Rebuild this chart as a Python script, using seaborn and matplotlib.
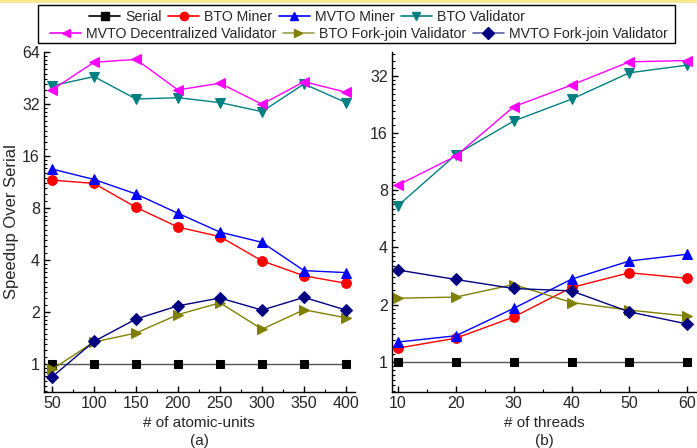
import numpy as np
import pandas as pd
import seaborn as sns
import matplotlib
matplotlib.use("Agg")
import matplotlib.pyplot as plt
from matplotlib.lines import Line2D
from matplotlib.patches import Rectangle
from matplotlib.ticker import FixedLocator, FixedFormatter, NullFormatter

# ---------------- data ----------------
series_names = ["Serial", "BTO Miner", "MVTO Miner", "BTO Validator",
                "MVTO Decentralized Validator", "BTO Fork-join Validator",
                "MVTO Fork-join Validator"]

atomic_units = [50, 100, 150, 200, 250, 300, 350, 400]
a_serial = [1, 1, 1, 1, 1, 1, 1, 1]
a_bto_miner = [11.6, 11.1, 8.07, 6.2, 5.46, 3.95, 3.24, 2.93]
a_mvto_miner = [13.45, 11.7, 9.64, 7.45, 5.8, 5.06, 3.47, 3.38]
a_bto_validator = [40.8, 46.1, 34.2, 34.8, 32.6, 28.9, 41.8, 32.6]
a_mvto_dec_validator = [38.6, 55.8, 58.0, 38.6, 42.2, 31.9, 43.1, 37.4]
a_bto_fj_validator = [0.93, 1.34, 1.51, 1.93, 2.26, 1.59, 2.06, 1.85]
a_mvto_fj_validator = [0.84, 1.35, 1.82, 2.17, 2.41, 2.05, 2.43, 2.05]

threads = [10, 20, 30, 40, 50, 60]
b_serial = [1, 1, 1, 1, 1, 1]
b_bto_miner = [1.18, 1.33, 1.72, 2.46, 2.94, 2.75]
b_mvto_miner = [1.27, 1.37, 1.91, 2.72, 3.39, 3.68]
b_bto_validator = [6.63, 12.3, 18.5, 24.1, 33.2, 36.4]
b_mvto_dec_validator = [8.51, 12.1, 22.0, 28.6, 37.9, 38.5]
b_bto_fj_validator = [2.16, 2.19, 2.55, 2.05, 1.87, 1.74]
b_mvto_fj_validator = [3.04, 2.71, 2.43, 2.36, 1.83, 1.58]

left_yticks = [1, 2, 4, 8, 16, 32, 64]
right_yticks = [1, 2, 4, 8, 16, 32]

# ---------------- style ----------------
colors = {"Serial": "#000000", "BTO Miner": "#ff0000", "MVTO Miner": "#0000ff",
          "BTO Validator": "#008080", "MVTO Decentralized Validator": "#ff00ff",
          "BTO Fork-join Validator": "#808000", "MVTO Fork-join Validator": "#000080"}
line_colors = dict(colors)
line_colors["Serial"] = "#555555"
legend_line_colors = dict(colors)
legend_line_colors["MVTO Fork-join Validator"] = "#6060a8"
legend_line_colors["BTO Fork-join Validator"] = "#a0a050"
markers = {"Serial": "s", "BTO Miner": "o", "MVTO Miner": "^", "BTO Validator": "v",
           "MVTO Decentralized Validator": "<", "BTO Fork-join Validator": ">",
           "MVTO Fork-join Validator": "D"}
msizes = {"Serial": 6, "BTO Miner": 7, "MVTO Miner": 7.5, "BTO Validator": 7.5,
          "MVTO Decentralized Validator": 7.5, "BTO Fork-join Validator": 7.5,
          "MVTO Fork-join Validator": 6}

sns.set_style("ticks")
plt.rcParams["font.family"] = ["Liberation Sans", "DejaVu Sans"]

fig = plt.figure(figsize=(6.97, 4.48), dpi=100)
W, H = 697, 448


def axrect(x0, x1, ytop, ybot):
    return [x0 / W, 1 - ybot / H, (x1 - x0) / W, (ybot - ytop) / H]


axA = fig.add_axes(axrect(44, 355, 52, 392))
axB = fig.add_axes(axrect(392, 697, 52, 392))

a_vals = [a_serial, a_bto_miner, a_mvto_miner, a_bto_validator,
          a_mvto_dec_validator, a_bto_fj_validator, a_mvto_fj_validator]
b_vals = [b_serial, b_bto_miner, b_mvto_miner, b_bto_validator,
          b_mvto_dec_validator, b_bto_fj_validator, b_mvto_fj_validator]


def draw(ax, xs, vals):
    for name, ys in zip(series_names, vals):
        df = pd.DataFrame({"x": xs, "y": ys})
        sns.lineplot(data=df, x="x", y="y", ax=ax, color=line_colors[name],
                     marker=markers[name], markersize=msizes[name],
                     markerfacecolor=colors[name], markeredgecolor=colors[name],
                     linewidth=1.0, legend=False)


draw(axA, atomic_units, a_vals)
draw(axB, threads, b_vals)

for ax, xt, yt, xlim, ylim, minor_x in [
        (axA, atomic_units, left_yticks, (40.5, 410.7), (0.688, 64), np.arange(25, 426, 25)),
        (axB, threads, right_yticks, (8.96, 61.7), (0.693, 42.7), np.arange(5, 66, 5))]:
    ax.set_yscale("log", base=2)
    ax.set_xlim(*xlim)
    ax.set_ylim(*ylim)
    ax.set_xticks(xt)
    ax.set_xticklabels([str(v) for v in xt])
    ax.xaxis.set_minor_locator(FixedLocator(minor_x))
    ax.yaxis.set_major_locator(FixedLocator(yt))
    ax.yaxis.set_major_formatter(FixedFormatter([str(v) for v in yt]))
    ymin = []
    for k in range(-1, 7):
        base = 2.0 ** k
        ymin += list(base * np.arange(1.1, 2.0, 0.1))
    ax.yaxis.set_minor_locator(FixedLocator(ymin))
    ax.yaxis.set_minor_formatter(NullFormatter())
    ax.tick_params(axis="both", which="major", direction="in", length=4, width=1,
                   labelsize=11.5, pad=3, color="black")
    ax.tick_params(axis="both", which="minor", direction="in", length=2, width=0.8,
                   color="black")
    ax.set_xlabel("")
    ax.set_ylabel("")
    for s in ["top", "right"]:
        ax.spines[s].set_visible(False)
    for s in ["left", "bottom"]:
        ax.spines[s].set_color("black")
        ax.spines[s].set_linewidth(1.0)
    ax.set_facecolor("white")

fig.text(199 / W, 1 - 423 / H, "# of atomic-units", ha="center", va="center", fontsize=11)
fig.text(199 / W, 1 - 441 / H, "(a)", ha="center", va="center", fontsize=11)
fig.text(544 / W, 1 - 423 / H, "# of threads", ha="center", va="center", fontsize=11)
fig.text(544 / W, 1 - 441 / H, "(b)", ha="center", va="center", fontsize=11)
fig.text(12 / W, 1 - 222 / H, "Speedup Over Serial", ha="center", va="center",
         rotation=90, fontsize=12)

# top yellow strip
fig.add_artist(Rectangle((0, 1 - 3 / H), 1, 3 / H, transform=fig.transFigure,
                         facecolor="#f6e98f", edgecolor="none"))
# legend box
fig.add_artist(Rectangle((38 / W, 1 - 43 / H), (675 - 38) / W, (43 - 5) / H,
                         transform=fig.transFigure, facecolor="white",
                         edgecolor="black", linewidth=1.0, zorder=5))


def handle(name):
    return Line2D([], [], color=legend_line_colors[name], marker=markers[name],
                  markersize=6, markerfacecolor=colors[name],
                  markeredgecolor=colors[name], linewidth=1.2)


row1 = series_names[:4]
row2 = series_names[4:]
for names, xl, yc in [(row1, 89, 17), (row2, 50, 34)]:
    leg = fig.legend([handle(n) for n in names], names, loc="center left",
                     bbox_to_anchor=(xl / W, 1 - yc / H), ncol=len(names),
                     frameon=False, fontsize=10.2, handlelength=2.2,
                     handletextpad=0.35, columnspacing=0.45, borderpad=0,
                     borderaxespad=0)
    leg.set_zorder(6)

fig.savefig("out.png", dpi=100)
